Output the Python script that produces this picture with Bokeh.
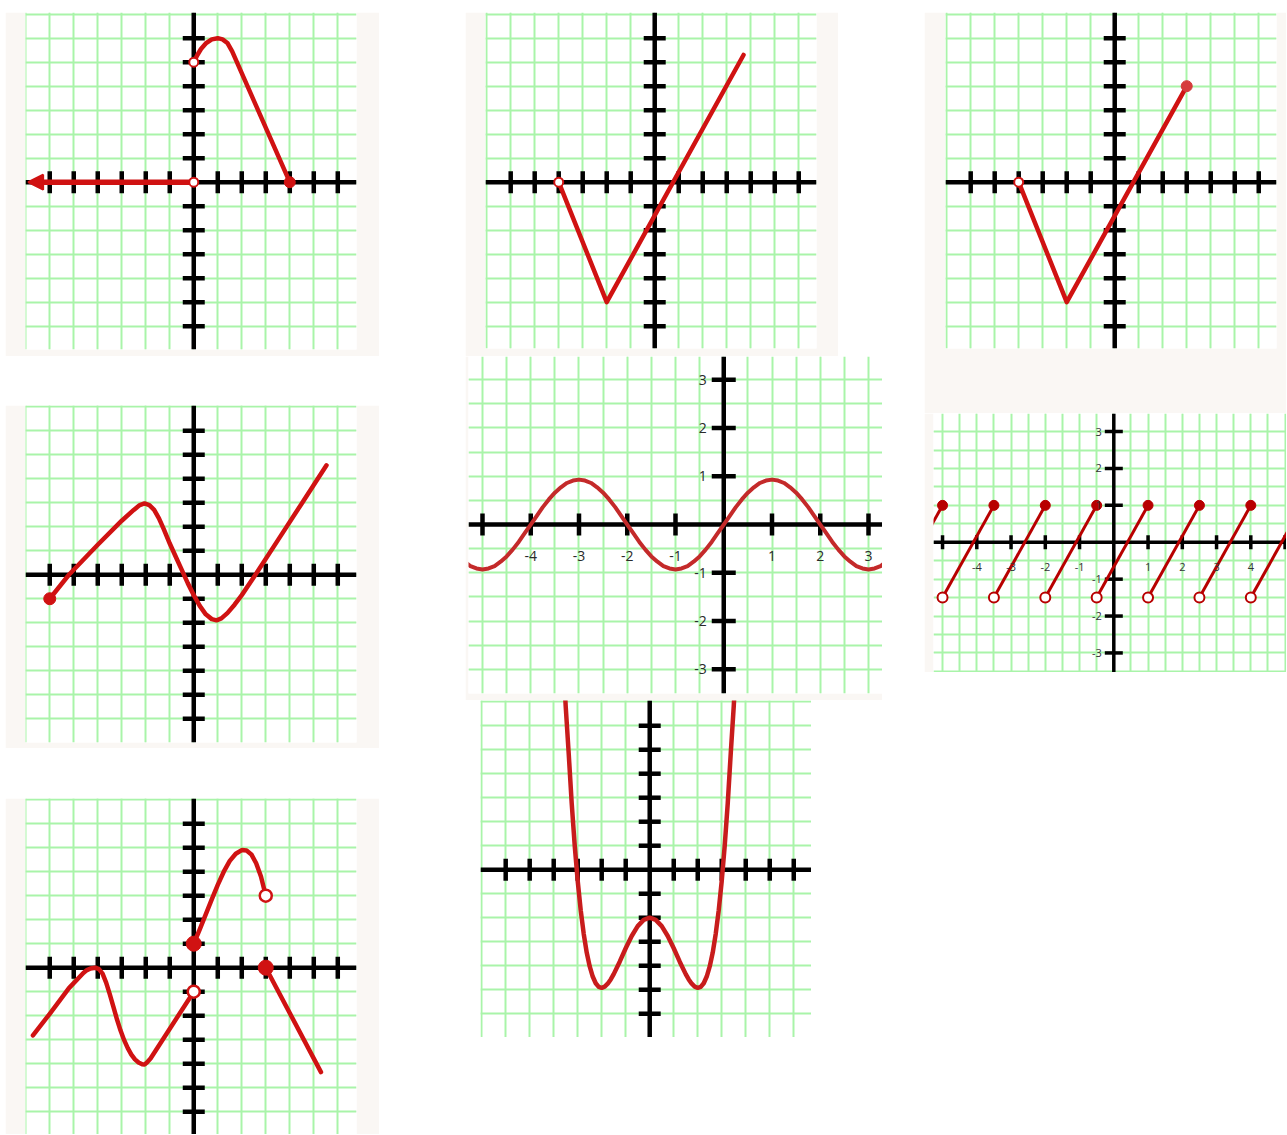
import math
from bokeh.plotting import figure
from bokeh.layouts import row, column
from bokeh.models import Range1d, Grid, SingleIntervalTicker, Arrow, NormalHead
from bokeh.core.properties import value
from bokeh.embed import file_html
from bokeh.resources import INLINE

# ---------------- data ----------------
ticks_big = [-6, -5, -4, -3, -2, -1, 1, 2, 3, 4, 5, 6]

# panel 1 (top left)
p1_ray_x = [0, -6.45]
p1_ray_y = [0, 0]
p1_arrow_x = [-6.3, -6.9]
p1_x = [0, 0.15, 0.3, 0.5, 0.75, 1.0, 1.2, 1.4, 1.6, 4.0]
p1_y = [5, 5.3, 5.55, 5.78, 5.95, 6.0, 5.95, 5.8, 5.45, 0]
p1_open_x = [0, 0]
p1_open_y = [0, 5]
p1_fill_x = [4]
p1_fill_y = [0]

# panel 2 (top middle)
p2_x = [-4, -2, 3.7]
p2_y = [0, -5, 5.3]
p2_open_x = [-4]
p2_open_y = [0]

# panel 3 (top right)
p3_x = [-4, -2, 3]
p3_y = [0, -5, 4]
p3_open_x = [-4]
p3_open_y = [0]
p3_fill_x = [3]
p3_fill_y = [4]

# panel 4 (middle left)
p4_x = [-6, -5.2, -4, -3, -2.5, -2.25, -2.05, -1.85, -1.65, -1.45, -1.25, -1.0, -0.75, -0.5,
        -0.25, 0, 0.25, 0.5, 0.75, 0.95, 1.15, 1.4, 1.7, 2.0, 2.57, 3.5, 4.5, 5.53]
p4_y = [-1, 0, 1.25, 2.25, 2.7, 2.9, 2.97, 2.9, 2.7, 2.35, 1.9, 1.3, 0.75, 0.2,
        -0.35, -0.85, -1.3, -1.65, -1.85, -1.9, -1.82, -1.6, -1.25, -0.85, 0, 1.43, 2.97, 4.56]
p4_fill_x = [-6]
p4_fill_y = [-1]

# sine panel (middle)
sine_x = [-5.5, -5.375, -5.25, -5.125, -5.0, -4.875, -4.75, -4.625,
          -4.5, -4.375, -4.25, -4.125, -4.0, -3.875, -3.75, -3.625,
          -3.5, -3.375, -3.25, -3.125, -3.0, -2.875, -2.75, -2.625,
          -2.5, -2.375, -2.25, -2.125, -2.0, -1.875, -1.75, -1.625,
          -1.5, -1.375, -1.25, -1.125, -1.0, -0.875, -0.75, -0.625,
          -0.5, -0.375, -0.25, -0.125, 0.0, 0.125, 0.25, 0.375,
          0.5, 0.625, 0.75, 0.875, 1.0, 1.125, 1.25, 1.375,
          1.5, 1.625, 1.75, 1.875, 2.0, 2.125, 2.25, 2.375,
          2.5, 2.625, 2.75, 2.875, 3.0, 3.125, 3.25, 3.375,
          3.5]
sine_y = [-0.66, -0.77, -0.86, -0.91, -0.93, -0.91, -0.86, -0.77,
          -0.66, -0.52, -0.36, -0.18, 0, 0.18, 0.36, 0.52,
          0.66, 0.77, 0.86, 0.91, 0.93, 0.91, 0.86, 0.77,
          0.66, 0.52, 0.36, 0.18, 0, -0.18, -0.36, -0.52,
          -0.66, -0.77, -0.86, -0.91, -0.93, -0.91, -0.86, -0.77,
          -0.66, -0.52, -0.36, -0.18, 0, 0.18, 0.36, 0.52,
          0.66, 0.77, 0.86, 0.91, 0.93, 0.91, 0.86, 0.77,
          0.66, 0.52, 0.36, 0.18, 0, -0.18, -0.36, -0.52,
          -0.66, -0.77, -0.86, -0.91, -0.93, -0.91, -0.86, -0.77,
          -0.66]
sine_xticks = [-5, -4, -3, -2, -1, 1, 2, 3]
sine_yticks = [-3, -2, -1, 1, 2, 3]
sine_xlab = [-4, -3, -2, -1, 1, 2, 3]
sine_xlab_text = ["-4", "-3", "-2", "-1", "1", "2", "3"]
sine_ylab = [3, 2, 1, -1, -2, -3]
sine_ylab_text = ["3", "2", "1", "-1", "-2", "-3"]

# sawtooth panel (middle right)
saw_start_x = [-6.5, -5, -3.5, -2, -0.5, 1, 2.5, 4]
saw_end_x = [-5, -3.5, -2, -0.5, 1, 2.5, 4, 5.5]
saw_low = -1.5
saw_high = 1
saw_xticks = [-5, -4, -3, -2, -1, 1, 2, 3, 4, 5]
saw_yticks = [-3, -2, -1, 1, 2, 3]
saw_xlab = [-4, -3, -2, -1, 1, 2, 3, 4]
saw_xlab_text = ["-4", "-3", "-2", "-1", "1", "2", "3", "4"]
saw_ylab = [3, 2, 1, -1, -2, -3]
saw_ylab_text = ["3", "2", "1", "-1", "-2", "-3"]

# panel 7 (bottom left)
p7a_x = [-6.7, -6.0, -5.2, -4.6, -4.45, -4.3, -4.1, -3.95, -3.8, -3.65, -3.5, -3.35, -3.2, -3.05,
         -2.9, -2.75, -2.6, -2.45, -2.3, -2.15, -2.05, -1.95, -1.8, 0]
p7a_y = [-2.82, -1.92, -0.85, -0.22, -0.1, -0.03, 0, -0.06, -0.25, -0.62, -1.1, -1.62, -2.15, -2.62,
         -3.02, -3.35, -3.62, -3.82, -3.95, -4.02, -4.03, -3.95, -3.78, -1.0]
p7b_x = [0, 0.25, 0.5, 0.75, 1.0, 1.25, 1.5, 1.75, 2.0, 2.2, 2.4, 2.6, 2.8, 3.0]
p7b_y = [1, 1.6, 2.22, 2.85, 3.45, 4.0, 4.45, 4.75, 4.9, 4.88, 4.72, 4.35, 3.8, 3.0]
p7c_x = [3, 5.3]
p7c_y = [0, -4.35]
p7_open_x = [0, 3]
p7_open_y = [-1, 3]
p7_fill_x = [0, 3]
p7_fill_y = [1, 0]

# quartic panel (bottom middle)
q_x = [-3.75, -3.5, -3.375, -3.25, -3.125, -3.0, -2.875, -2.75, -2.625, -2.5, -2.375, -2.25,
       -2.125, -2.0, -1.875, -1.75, -1.625, -1.5, -1.25, -1.0, -0.75, -0.5, -0.25, 0,
       0.25, 0.5, 0.75, 1.0, 1.25, 1.5, 1.625, 1.75, 1.875, 2.0, 2.125, 2.25, 2.375, 2.5,
       2.625, 2.75, 2.875, 3.0, 3.125, 3.25, 3.375, 3.5, 3.75]
q_y = [11.5, 6.8, 4.84, 2.76, 1.01, -0.47, -1.69, -2.67, -3.45, -4.03, -4.45, -4.73,
       -4.88, -4.92, -4.87, -4.75, -4.57, -4.35, -3.83, -3.27, -2.76, -2.35, -2.09, -2.0,
       -2.09, -2.35, -2.76, -3.27, -3.83, -4.35, -4.57, -4.75, -4.87, -4.92, -4.88, -4.73, -4.45, -4.03,
       -3.45, -2.67, -1.69, -0.47, 1.01, 2.76, 4.84, 6.8, 11.5]

# ---------------- styles ----------------
OFF = "#faf7f4"
GREEN = "#a9f4a9"
RED = "#d01212"
SINE_RED = "#c42a2a"
SAW_RED = "#b80000"
Q_RED = "#c81c1c"
FONT = value("Open Sans")


def make(xr, yr, fw, fh, bl=0, br=0, bt=0, bb=0, step=1.0, fill=OFF, margin=(0, 0, 0, 0)):
    p = figure(width=fw + bl + br, height=fh + bt + bb,
               x_range=Range1d(*xr), y_range=Range1d(*yr),
               output_backend="svg", toolbar_location=None, title=None, tools="",
               x_axis_location=None, y_axis_location=None, frame_align=False,
               min_border_left=bl, min_border_right=br, min_border_top=bt, min_border_bottom=bb,
               border_fill_color=fill, background_fill_color="white",
               outline_line_color=None, margin=margin)
    for d in (0, 1):
        p.add_layout(Grid(dimension=d, ticker=SingleIntervalTicker(interval=step, num_minor_ticks=0),
                          grid_line_color=GREEN, grid_line_width=2))
    return p


def axes(p, xt, yt, lw=4.5, xlen=22, ylen=22, tw=4.5):
    xr, yr = p.x_range, p.y_range
    p.segment(x0=[xr.start, 0], y0=[0, yr.start], x1=[xr.end, 0], y1=[0, yr.end],
              line_color="black", line_width=lw)
    p.scatter(x=xt, y=[0] * len(xt), marker="dash", angle=math.pi / 2, size=xlen,
              line_color="black", line_width=tw)
    p.scatter(x=[0] * len(yt), y=yt, marker="dash", size=ylen,
              line_color="black", line_width=tw)


def opens(p, x, y, size=10, color=RED, lw=2):
    p.scatter(x=x, y=y, marker="circle", size=size, fill_color="white", line_color=color, line_width=lw)


def fills(p, x, y, size=11, color=RED):
    p.scatter(x=x, y=y, marker="circle", size=size, fill_color=color, line_color=color)


# ---- panel 1 ----
p1 = make((-7.01, 6.78), (-6.97, 7.07), 331, 337, bl=20, br=23, bb=7, margin=(12, 0, 0, 5))
axes(p1, ticks_big, ticks_big)
p1.line(p1_ray_x, p1_ray_y, line_color=RED, line_width=5.5)
p1.add_layout(Arrow(end=NormalHead(size=15, fill_color=RED, fill_alpha=1.0, line_color=RED, line_width=2),
                    x_start=p1_arrow_x[0], y_start=0, x_end=p1_arrow_x[1], y_end=0,
                    line_color=RED, line_width=5.5))
p1.line(p1_x, p1_y, line_color=RED, line_width=4.5, line_join="round", line_cap="round")
opens(p1, p1_open_x, p1_open_y, size=9)
fills(p1, p1_fill_x, p1_fill_y, size=11)

# ---- panel 4 ----
p4 = make((-7.01, 6.78), (-6.99, 7.05), 331, 337, bl=20, br=23, bb=6, margin=(49, 0, 0, 5))
axes(p4, ticks_big, ticks_big)
p4.line(p4_x, p4_y, line_color=RED, line_width=4.5, line_join="round", line_cap="round")
fills(p4, p4_fill_x, p4_fill_y, size=12)

# ---- panel 7 ----
p7 = make((-7.01, 6.78), (-6.95, 7.05), 331, 336, bl=20, br=23, margin=(50, 0, 0, 5))
axes(p7, ticks_big, ticks_big)
for xs, ys in ((p7a_x, p7a_y), (p7b_x, p7b_y), (p7c_x, p7c_y)):
    p7.line(xs, ys, line_color=RED, line_width=4.5, line_join="round", line_cap="round")
fills(p7, p7_fill_x, p7_fill_y, size=15)
opens(p7, p7_open_x, p7_open_y, size=12, lw=2.5)

# ---- panel 2 ----
p2 = make((-7.05, 6.74), (-6.93, 7.07), 331, 336, bl=20, br=22, bb=8, margin=(12, 0, 0, 86))
axes(p2, ticks_big, ticks_big)
p2.line(p2_x, p2_y, line_color=RED, line_width=4.5, line_join="round", line_cap="round")
opens(p2, p2_open_x, p2_open_y, size=9)

# ---- sine panel ----
ps = make((-5.29, 3.29), (-3.50, 3.48), 414, 337, bl=3, bb=7, step=0.5, margin=(0, 0, 0, 86))
axes(ps, sine_xticks, sine_yticks, lw=4.5, xlen=22, ylen=24, tw=4.5)
ps.line(sine_x, sine_y, line_color=SINE_RED, line_width=4, line_join="round")
s_unit = 414 / (3.29 + 5.29)
ps.text(x=sine_xlab, y=[-31 / s_unit] * len(sine_xlab), text=sine_xlab_text, text_font=FONT,
        text_font_size="14px", text_color="#2a2a2a", text_align="center", text_baseline="middle")
ps.text(x=[-17 / s_unit] * len(sine_ylab), y=sine_ylab, text=sine_ylab_text, text_font=FONT,
        text_font_size="14px", text_color="#2a2a2a", text_align="right", text_baseline="middle")

# ---- quartic panel ----
pq = make((-7.05, 6.74), (-6.99, 7.05), 331, 337, fill="white", margin=(0, 0, 0, 101))
axes(pq, ticks_big, ticks_big)
pq.line(q_x, q_y, line_color=Q_RED, line_width=4.5, line_join="round")

# ---- panel 3 ----
p3 = make((-7.05, 6.74), (-6.93, 7.07), 331, 336, bl=21, br=10, bb=65, margin=(12, 0, 0, 42))
axes(p3, ticks_big, ticks_big)
p3.line(p3_x, p3_y, line_color=RED, line_width=4.5, line_join="round", line_cap="round")
opens(p3, p3_open_x, p3_open_y, size=9)
fills(p3, p3_fill_x, p3_fill_y, size=11, color="#d63c3c")

# ---- sawtooth panel ----
pw = make((-5.264, 5.042), (-3.53, 3.49), 353, 259, bl=9, step=0.5, margin=(0, 0, 0, 42))
axes(pw, saw_xticks, saw_yticks, lw=3.5, xlen=14, ylen=18, tw=3.5)
pw.segment(x0=saw_start_x, y0=[saw_low] * len(saw_start_x), x1=saw_end_x,
           y1=[saw_high] * len(saw_end_x), line_color=SAW_RED, line_width=3)
fills(pw, saw_end_x, [saw_high] * len(saw_end_x), size=10, color=SAW_RED)
opens(pw, saw_start_x, [saw_low] * len(saw_start_x), size=10, color=SAW_RED, lw=2)
w_xu = 353 / (5.042 + 5.264)
w_yu = 259 / (3.49 + 3.53)
pw.text(x=saw_xlab, y=[-25 / w_yu] * len(saw_xlab), text=saw_xlab_text, text_font=FONT,
        text_font_size="11px", text_color="#333333", text_align="center", text_baseline="middle")
pw.text(x=[-12 / w_xu] * len(saw_ylab), y=saw_ylab, text=saw_ylab_text, text_font=FONT,
        text_font_size="11px", text_color="#333333", text_align="right", text_baseline="middle")

col1 = column(p1, p4, p7)
col2 = column(p2, ps, pq)
col3 = column(p3, pw)
layout = row(col1, col2, col3)

open("out.html", "w").write(file_html(layout, INLINE))
